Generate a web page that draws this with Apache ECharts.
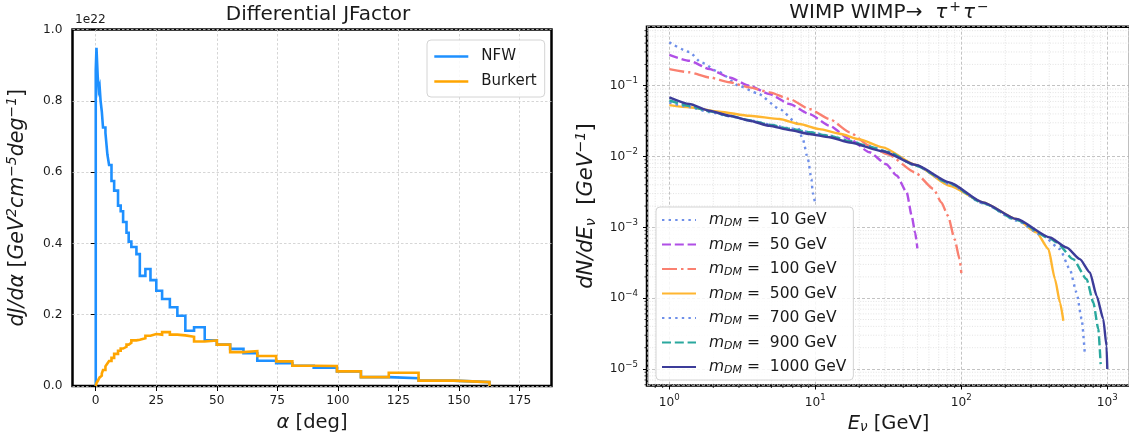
<!DOCTYPE html>
<html>
<head>
<meta charset="utf-8">
<script src="https://cdn.jsdelivr.net/npm/echarts@6/dist/echarts.min.js"></script>
<style>
  html, body { margin: 0; padding: 0; background: #ffffff; }
  #chart { width: 1129px; height: 443px; }
</style>
</head>
<body>
<div id="chart"></div>
<script>
// ---------- Left panel: differential J-factor (step histograms over opening angle) ----------
const alphaEdges = [0, 0.3, 0.8, 1.2, 1.6, 2.0, 2.5, 3.0, 4.0, 4.8, 5.5, 6.5, 7.6, 9.2, 10.3, 11.3,
  12.7, 13.6, 14.7, 16.8, 18.2, 20.5, 22.6, 25.0, 27.4, 30.6, 33.7, 37.0, 40.6, 45.0, 50.0,
  55.5, 61.0, 66.7, 74.5, 81.2, 90.0, 99.6, 109.5, 121.0, 133.3, 147.8, 162.6];
const nfwJ = [0.886, 0.949, 0.87, 0.83, 0.84, 0.80, 0.77, 0.725, 0.71, 0.65, 0.62, 0.575, 0.548,
  0.506, 0.49, 0.46, 0.43, 0.405, 0.39, 0.37, 0.309, 0.328, 0.297, 0.267, 0.244, 0.221, 0.197,
  0.155, 0.165, 0.128, 0.116, 0.104, 0.092, 0.071, 0.064, 0.057, 0.051, 0.041, 0.025, 0.022,
  0.015, 0.011];
const burkertJ = [0.003, 0.008, 0.014, 0.019, 0.024, 0.029, 0.035, 0.045, 0.055, 0.063, 0.07,
  0.079, 0.09, 0.099, 0.105, 0.11, 0.116, 0.121, 0.128, 0.13, 0.134, 0.141, 0.146, 0.144, 0.151,
  0.144, 0.142, 0.138, 0.125, 0.128, 0.116, 0.095, 0.098, 0.084, 0.069, 0.057, 0.056, 0.041,
  0.025, 0.037, 0.015, 0.011];
const alphaTicks = [0, 25, 50, 75, 100, 125, 150, 175];
const jTickStep = 0.2;

// ---------- Right panel: neutrino spectra, WIMP WIMP -> tau+ tau- ----------
const massNames = ['10', '50', '100', '500', '700', '900', '1000'];
const E_m10 = [1, 1.37, 1.65, 2.2, 3.0, 4.0, 5.7, 7.4, 8.2, 8.9, 9.4, 9.6, 10];
const dN_m10 = [0.41, 0.30, 0.214, 0.155, 0.10, 0.0785, 0.047, 0.030, 0.0177, 0.0092, 0.0048, 0.0031, 0.0021];
const E_m50 = [1, 1.37, 1.88, 2.58, 3.54, 4.85, 6.66, 9.1, 12.5, 17.2, 23.5, 30.6, 36.1, 42.3, 45.7, 48.2, 50];
const dN_m50 = [0.272, 0.225, 0.172, 0.131, 0.10, 0.0764, 0.0552, 0.0398, 0.0272, 0.0177, 0.0115, 0.0078,
  0.0054, 0.0031, 0.00146, 0.00085, 0.000505];
const E_m100 = [1, 1.37, 1.88, 2.58, 3.54, 4.85, 6.66, 9.1, 12.5, 17.2, 23.5, 31.4, 48, 64.5, 73, 81, 90, 97.3, 100];
const dN_m100 = [0.172, 0.155, 0.131, 0.112, 0.0948, 0.0807, 0.0649, 0.0469, 0.0339, 0.022, 0.0142, 0.0108,
  0.006, 0.00348, 0.00225, 0.00146, 0.00068, 0.000356, 0.000226];
const E_m500 = [1, 1.37, 2.2, 3.54, 5.68, 7.8, 10.7, 14.7, 20.1, 29, 49, 83, 141, 239, 327, 395, 438, 474, 500];
const dN_m500 = [0.0533, 0.0496, 0.043, 0.0377, 0.0339, 0.0288, 0.0244, 0.021, 0.0175, 0.0135, 0.0076,
  0.00387, 0.00225, 0.00131, 0.00085, 0.000494, 0.000186, 0.000087, 0.000048];
const E_m700 = [1, 1.37, 1.88, 2.58, 3.54, 4.85, 6.66, 9.1, 12.5, 17.2, 23.5, 31.4, 49, 83, 141, 239, 363,
  473, 553, 615, 667, 700];
const dN_m700 = [0.058, 0.05, 0.0425, 0.037, 0.0325, 0.0285, 0.025, 0.0222, 0.0197, 0.0167, 0.014, 0.0117,
  0.0074, 0.0041, 0.00218, 0.00125, 0.00076, 0.000494, 0.000258, 0.000121, 0.000051, 0.0000172];
const E_m900 = [1, 1.37, 1.88, 2.58, 3.54, 4.85, 6.66, 9.1, 12.5, 17.2, 23.5, 31.4, 49, 83, 141, 239, 404,
  449, 583, 721, 802, 867, 900];
const dN_m900 = [0.062, 0.052, 0.0435, 0.0375, 0.0325, 0.0282, 0.0248, 0.022, 0.0196, 0.0165, 0.0138, 0.0116,
  0.0074, 0.0042, 0.0022, 0.00127, 0.0007, 0.000614, 0.000356, 0.000186, 0.000087, 0.000037, 0.0000117];
const E_m1000 = [1, 1.37, 1.88, 2.58, 3.54, 4.85, 6.66, 9.1, 12.5, 17.2, 29, 49, 83, 141, 239, 404, 526, 649,
  760, 845, 938, 988, 1000];
const dN_m1000 = [0.0685, 0.0552, 0.0444, 0.0377, 0.0321, 0.0272, 0.0237, 0.0208, 0.0187, 0.0158, 0.0119,
  0.0076, 0.0043, 0.00225, 0.00131, 0.00072, 0.00052, 0.000356, 0.000231, 0.000108, 0.000051, 0.000021, 0.00001];

const spectraE = [E_m10, E_m50, E_m100, E_m500, E_m700, E_m900, E_m1000];
const spectraDN = [dN_m10, dN_m50, dN_m100, dN_m500, dN_m700, dN_m900, dN_m1000];
const spectraColors = ['#6e8fe9', '#b04fe6', '#fa8070', '#ffb630', '#6e8fe9', '#2aa89e', '#3c3c99'];
const spectraDash = [[2.4, 4.2], [9, 3.8], [15, 4, 2.5, 4], 'solid', [2.4, 4.2], [9, 3.8], 'solid'];

// axis ranges
const E_MIN = 0.703, E_MAX = 1430;
const F_MIN = 5.85e-6, F_MAX = 0.682;

const FONT = 'DejaVu Sans';
const INK = '#1a1a1a';

// step outline of a histogram: vertical rise at the first edge, flat bins, drop at the last edge
function stepOutline(edges, vals) {
  const pts = [[edges[0], 0]];
  for (let i = 0; i < vals.length; i++) pts.push([edges[i], vals[i]]);
  pts.push([edges[edges.length - 1], vals[vals.length - 1]]);
  pts.push([edges[edges.length - 1], 0]);
  return pts;
}

function zipPairs(xs, ys) {
  return xs.map((x, i) => [x, ys[i]]);
}

// log-axis labels as 10^k with a raised exponent
function powerLabel(v) {
  const lg = Math.log10(v);
  const k = Math.round(lg);
  if (Math.abs(lg - k) > 1e-6) return '';
  const exp = k < 0 ? '\u2212' + (-k) : String(k);
  return '{b|10}{s|' + exp + '}';
}

const powRich = {
  b: { fontFamily: FONT, fontSize: 12.2, color: INK },
  s: { fontFamily: FONT, fontSize: 8.6, color: INK, padding: [0, 0, 9, 0] }
};

// minor decade subdivisions (2..9 x 10^k) for the log grid
function decadeSubdivisions(lo, hi) {
  const out = [];
  for (let k = Math.floor(Math.log10(lo)); k <= Math.ceil(Math.log10(hi)); k++) {
    for (let m = 2; m <= 9; m++) {
      const v = m * Math.pow(10, k);
      if (v > lo && v < hi) out.push(v);
    }
  }
  return out;
}
const minorE = decadeSubdivisions(E_MIN, E_MAX);
const minorF = decadeSubdivisions(F_MIN, F_MAX);

const MINOR_GRID = { stroke: '#dcdcdc', lineWidth: 0.8, lineDash: [1, 1.6] };
const MINOR_TICK = { stroke: '#000', lineWidth: 0.8 };

const chart = echarts.init(document.getElementById('chart'), null, { renderer: 'canvas' });

const legendRich = {
  m: { fontFamily: FONT, fontStyle: 'italic', fontSize: 15.5, color: INK, padding: [0, 0, 0, 8] },
  d: { fontFamily: FONT, fontStyle: 'italic', fontSize: 11, color: INK, padding: [7, 0, 0, 0] },
  t: { fontFamily: FONT, fontSize: 15.5, color: INK }
};

const spectraSeries = massNames.map((name, i) => ({
  name: name,
  type: 'line',
  xAxisIndex: 1,
  yAxisIndex: 1,
  data: zipPairs(spectraE[i], spectraDN[i]),
  showSymbol: false,
  symbol: 'none',
  symbolSize: 0,
  smooth: 0.2,
  smoothMonotone: 'x',
  lineStyle: { color: spectraColors[i], width: 2.4, type: spectraDash[i], cap: 'butt' },
  itemStyle: { color: spectraColors[i] },
  z: 3 + i,
  silent: true,
  animation: false
}));

const option = {
  animation: false,
  backgroundColor: '#ffffff',
  title: [
    {
      text: 'Differential JFactor',
      left: 313, top: 0, textAlign: 'center',
      textStyle: { fontFamily: FONT, fontSize: 20, fontWeight: 'normal', color: INK }
    },
    {
      text: '{n|WIMP WIMP\u2192  }{g|\u03c4}{p|+}{g|\u03c4}{p|\u2212}',
      left: 885, top: -5, textAlign: 'center',
      textStyle: {
        fontFamily: FONT, fontSize: 20, fontWeight: 'normal', color: INK,
        rich: {
          n: { fontFamily: FONT, fontSize: 20, color: INK },
          g: { fontFamily: FONT, fontSize: 20, fontStyle: 'italic', color: INK },
          p: { fontFamily: FONT, fontSize: 14, color: INK, padding: [0, 2, 12, 2] }
        }
      }
    }
  ],
  graphic: [
    {
      type: 'text', left: 75, top: 14,
      style: { text: '1e22', font: '12.2px "DejaVu Sans"', fill: INK }
    }
  ],
  legend: [
    {
      data: ['NFW', 'Burkert'],
      orient: 'vertical',
      left: 427, top: 40,
      padding: [9, 8, 8, 6],
      itemWidth: 34, itemHeight: 12, itemGap: 10,
      backgroundColor: 'rgba(255,255,255,0.85)',
      borderColor: '#d4d4d4', borderWidth: 1, borderRadius: 4,
      itemStyle: { opacity: 0 },
      lineStyle: { width: 2.6 },
      textStyle: { fontFamily: FONT, fontSize: 15, color: INK, padding: [0, 0, 0, 8] },
      selectedMode: false
    },
    {
      data: massNames,
      orient: 'vertical',
      left: 656, top: 207,
      padding: [5, 7, 4, 5],
      itemWidth: 34, itemHeight: 12, itemGap: 7.5,
      backgroundColor: 'rgba(255,255,255,0.85)',
      borderColor: '#d4d4d4', borderWidth: 1, borderRadius: 4,
      itemStyle: { opacity: 0 },
      formatter: name => '{m|m}{d|DM}{t| =  ' + name + ' GeV}',
      textStyle: { fontFamily: FONT, fontSize: 15.5, color: INK, rich: legendRich },
      selectedMode: false
    }
  ],
  grid: [
    {
      left: 72.5, top: 29.5, width: 479, height: 356.5,
      show: true, borderColor: '#000', borderWidth: 2.5, backgroundColor: 'transparent',
      containLabel: false, outerBoundsMode: 'none'
    },
    {
      left: 647, top: 26.7, width: 483, height: 358.8,
      show: true, borderColor: '#000', borderWidth: 2.5, backgroundColor: 'transparent',
      containLabel: false, outerBoundsMode: 'none'
    }
  ],
  xAxis: [
    {
      type: 'value', gridIndex: 0, min: -9.6, max: 188.2,
      name: '{g|\u03b1}{n| [deg]}', nameLocation: 'middle', nameGap: 27,
      nameTextStyle: {
        rich: {
          g: { fontFamily: FONT, fontSize: 19.5, fontStyle: 'italic', color: INK },
          n: { fontFamily: FONT, fontSize: 19.5, color: INK }
        }
      },
      axisLine: { show: false },
      axisTick: { show: true, inside: false, length: 5, customValues: alphaTicks, lineStyle: { color: '#000', width: 1 } },
      axisLabel: { customValues: alphaTicks, margin: 9, fontFamily: FONT, fontSize: 12.2, color: INK },
      splitLine: { show: true, lineStyle: { color: '#cccccc', width: 0.8, type: [2.5, 2] } }
    },
    {
      type: 'log', logBase: 10, gridIndex: 1, min: E_MIN, max: E_MAX,
      name: '{g|E}{u|\u03bd}{n| [GeV]}', nameLocation: 'middle', nameGap: 27,
      nameTextStyle: {
        rich: {
          g: { fontFamily: FONT, fontSize: 19.5, fontStyle: 'italic', color: INK },
          u: { fontFamily: FONT, fontSize: 13.5, fontStyle: 'italic', color: INK, padding: [8, 0, 0, 0] },
          n: { fontFamily: FONT, fontSize: 19.5, color: INK }
        }
      },
      axisLine: { show: false },
      axisTick: { show: true, inside: false, length: 4, lineStyle: { color: '#000', width: 1 } },
      axisLabel: { margin: 8, formatter: powerLabel, rich: powRich, showMinLabel: false, showMaxLabel: false },
      splitLine: { show: true, lineStyle: { color: '#b4b4b4', width: 0.8, type: [3, 2] } }
    }
  ],
  yAxis: [
    {
      type: 'value', gridIndex: 0, min: 0, max: 1, interval: jTickStep,
      name: '{i|dJ/d\u03b1 }{n|[}{i|GeV}{s|2}{i|cm}{s|\u22125}{i|deg}{s|\u22121}{n|]}',
      nameLocation: 'middle', nameGap: 42, nameRotate: 90,
      nameTextStyle: {
        rich: {
          i: { fontFamily: FONT, fontSize: 20.5, fontStyle: 'italic', color: INK },
          n: { fontFamily: FONT, fontSize: 20.5, color: INK },
          s: { fontFamily: FONT, fontSize: 14, fontStyle: 'italic', color: INK, padding: [0, 0, 11, 0] }
        }
      },
      axisLine: { show: false },
      axisTick: { show: true, inside: false, length: 5, lineStyle: { color: '#000', width: 1 } },
      axisLabel: { margin: 10, fontFamily: FONT, fontSize: 12.2, color: INK, formatter: v => v.toFixed(1) },
      splitLine: { show: true, lineStyle: { color: '#cccccc', width: 0.8, type: [2.5, 2] } }
    },
    {
      type: 'log', logBase: 10, gridIndex: 1, min: F_MIN, max: F_MAX,
      name: '{i|dN/dE}{u|\u03bd}{n|  [}{i|GeV}{s|\u22121}{n|]}',
      nameLocation: 'middle', nameGap: 47, nameRotate: 90,
      nameTextStyle: {
        rich: {
          i: { fontFamily: FONT, fontSize: 21, fontStyle: 'italic', color: INK },
          n: { fontFamily: FONT, fontSize: 21, color: INK },
          u: { fontFamily: FONT, fontSize: 14.5, fontStyle: 'italic', color: INK, padding: [8, 0, 0, 0] },
          s: { fontFamily: FONT, fontSize: 14.5, fontStyle: 'italic', color: INK, padding: [0, 0, 11, 0] }
        }
      },
      axisLine: { show: false },
      axisTick: { show: true, inside: false, length: 4, lineStyle: { color: '#000', width: 1 } },
      axisLabel: { margin: 9, formatter: powerLabel, rich: powRich, showMinLabel: false, showMaxLabel: false },
      splitLine: { show: true, lineStyle: { color: '#b4b4b4', width: 0.8, type: [3, 2] } }
    }
  ],
  series: [
    {
      name: 'NFW', type: 'line', xAxisIndex: 0, yAxisIndex: 0,
      data: stepOutline(alphaEdges, nfwJ), step: 'end',
      showSymbol: false, symbol: 'none', symbolSize: 0,
      lineStyle: { color: '#1e90ff', width: 2.6, join: 'miter' },
      itemStyle: { color: '#1e90ff' }, z: 3, silent: true
    },
    {
      name: 'Burkert', type: 'line', xAxisIndex: 0, yAxisIndex: 0,
      data: stepOutline(alphaEdges, burkertJ), step: 'end',
      showSymbol: false, symbol: 'none', symbolSize: 0,
      lineStyle: { color: '#ffa500', width: 2.6, join: 'miter' },
      itemStyle: { color: '#ffa500' }, z: 4, silent: true
    },
    // minor log grid + minor ticks along energy
    {
      type: 'custom', xAxisIndex: 1, yAxisIndex: 1, silent: true, z: 1, clip: false,
      data: minorE.map(v => [v, F_MIN]),
      renderItem: (params, api) => {
        const v = api.value(0);
        const top = api.coord([v, F_MAX]);
        const bot = api.coord([v, F_MIN]);
        return {
          type: 'group',
          children: [
            { type: 'line', shape: { x1: top[0], y1: top[1], x2: bot[0], y2: bot[1] }, style: MINOR_GRID },
            { type: 'line', shape: { x1: bot[0], y1: bot[1], x2: bot[0], y2: bot[1] + 2.5 }, style: MINOR_TICK }
          ]
        };
      }
    },
    // minor log grid + minor ticks along flux
    {
      type: 'custom', xAxisIndex: 1, yAxisIndex: 1, silent: true, z: 1, clip: false,
      data: minorF.map(v => [E_MIN, v]),
      renderItem: (params, api) => {
        const v = api.value(1);
        const l = api.coord([E_MIN, v]);
        const r = api.coord([E_MAX, v]);
        return {
          type: 'group',
          children: [
            { type: 'line', shape: { x1: l[0], y1: l[1], x2: r[0], y2: r[1] }, style: MINOR_GRID },
            { type: 'line', shape: { x1: l[0], y1: l[1], x2: l[0] - 2.5, y2: l[1] }, style: MINOR_TICK }
          ]
        };
      }
    }
  ].concat(spectraSeries)
};

chart.setOption(option);
</script>
</body>
</html>
